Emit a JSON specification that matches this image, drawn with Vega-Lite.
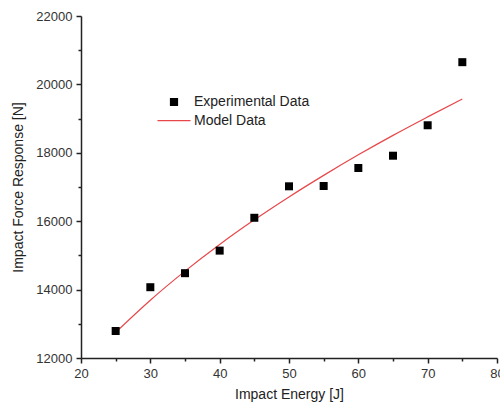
{
  "$schema": "https://vega.github.io/schema/vega-lite/v6.json",
  "width": 416,
  "height": 342,
  "autosize": "none",
  "padding": {"left": 81, "top": 16, "right": 3, "bottom": 50},
  "background": "white",
  "config": {
    "view": {"stroke": null},
    "font": "Liberation Sans",
    "axis": {
      "grid": false,
      "domainColor": "#222",
      "domainWidth": 1.5,
      "tickColor": "#222",
      "tickWidth": 1.5,
      "tickSize": 5,
      "labelFont": "Liberation Sans",
      "labelFontSize": 13,
      "labelColor": "#333",
      "labelPadding": 4,
      "labelFlush": false,
      "labelOverlap": false,
      "titleFont": "Liberation Sans",
      "titleFontSize": 14,
      "titleFontWeight": "normal",
      "titleColor": "#222"
    }
  },
  "data": {
    "values": [
      {"E": 25, "F": 12790, "series": "Experimental Data"},
      {"E": 30, "F": 14070, "series": "Experimental Data"},
      {"E": 35, "F": 14480, "series": "Experimental Data"},
      {"E": 40, "F": 15140, "series": "Experimental Data"},
      {"E": 45, "F": 16100, "series": "Experimental Data"},
      {"E": 50, "F": 17020, "series": "Experimental Data"},
      {"E": 55, "F": 17030, "series": "Experimental Data"},
      {"E": 60, "F": 17555, "series": "Experimental Data"},
      {"E": 65, "F": 17915, "series": "Experimental Data"},
      {"E": 70, "F": 18805, "series": "Experimental Data"},
      {"E": 75, "F": 20650, "series": "Experimental Data"},
      {"E": 25, "F": 12750, "series": "Model Data"},
      {"E": 30, "F": 13690, "series": "Model Data"},
      {"E": 35, "F": 14540, "series": "Model Data"},
      {"E": 40, "F": 15320, "series": "Model Data"},
      {"E": 45, "F": 16040, "series": "Model Data"},
      {"E": 50, "F": 16710, "series": "Model Data"},
      {"E": 55, "F": 17340, "series": "Model Data"},
      {"E": 60, "F": 17940, "series": "Model Data"},
      {"E": 65, "F": 18510, "series": "Model Data"},
      {"E": 70, "F": 19050, "series": "Model Data"},
      {"E": 75, "F": 19575, "series": "Model Data"}
    ]
  },
  "layer": [
    {
      "transform": [{"filter": "datum.series === 'Model Data'"}],
      "mark": {"type": "line", "strokeWidth": 1.2, "interpolate": "monotone"},
      "encoding": {
        "x": {"field": "E", "type": "quantitative", "scale": {"domain": [20, 80], "nice": false, "zero": false},
          "axis": {"orient": "bottom", "values": [25, 35, 45, 55, 65, 75], "labels": false, "domain": false, "title": null, "tickSize": 3}},
        "y": {"field": "F", "type": "quantitative", "scale": {"domain": [12000, 22000], "nice": false, "zero": false},
          "axis": {"orient": "left", "values": [13000, 15000, 17000, 19000, 21000], "labels": false, "domain": false, "title": null, "tickSize": 3}},
        "color": {"field": "series", "type": "nominal",
          "scale": {"domain": ["Experimental Data", "Model Data"], "range": ["#000000", "#e8474a"]},
          "legend": {
            "orient": "none", "legendX": 86, "legendY": 79, "title": null,
            "padding": 0, "rowPadding": 4.6, "labelFontSize": 14, "labelColor": "#222", "labelFont": "Liberation Sans",
            "symbolSize": 1089, "labelOffset": 13,
            "encode": {
              "symbols": {
                "update": {
                  "shape": {"signal": "datum.value === 'Model Data' ? 'stroke' : 'square'"},
                  "size": {"signal": "datum.value === 'Model Data' ? 1089 : 49"},
                  "fill": {"signal": "datum.value === 'Model Data' ? 'transparent' : '#000'"},
                  "stroke": {"signal": "datum.value === 'Model Data' ? '#e8474a' : 'transparent'"},
                  "strokeWidth": {"value": 1.2},
                  "opacity": {"value": 1}
                }
              }
            }
          }
        }
      }
    },
    {
      "transform": [{"filter": "datum.series === 'Experimental Data'"}],
      "mark": {"type": "point", "shape": "square", "filled": true, "size": 64, "opacity": 1},
      "encoding": {
        "x": {"field": "E", "type": "quantitative",
          "axis": {"orient": "bottom", "values": [20, 30, 40, 50, 60, 70, 80], "title": "Impact Energy [J]", "titlePadding": 7}},
        "y": {"field": "F", "type": "quantitative",
          "axis": {"orient": "left", "values": [12000, 14000, 16000, 18000, 20000, 22000], "format": "d", "title": "Impact Force Response [N]", "titlePadding": 10}},
        "color": {"field": "series", "type": "nominal"}
      }
    }
  ],
  "resolve": {"axis": {"x": "independent", "y": "independent"}}
}
